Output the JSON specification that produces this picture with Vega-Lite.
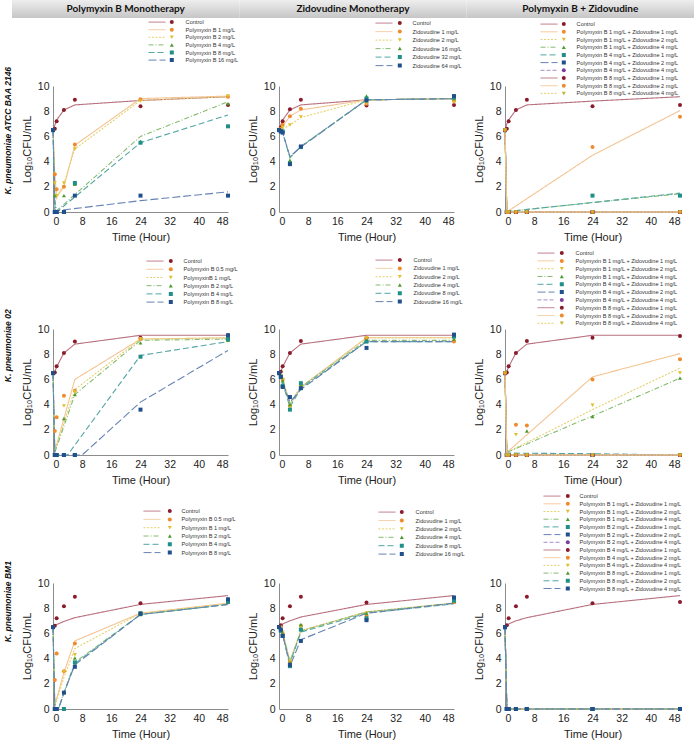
{
"$schema":"https://vega.github.io/schema/vega-lite/v6.json",
"padding":{"left":3,"top":0,"right":0,"bottom":0},
"autosize":{"type":"pad"},
"background":"white",
"config":{
 "view":{"stroke":null},
 "axis":{"labelFont":"Liberation Sans","labelFontSize":10.5,"labelColor":"#222","titleFont":"Liberation Sans","titleFontSize":11,"titleFontWeight":"normal","titleColor":"#222","domainColor":"#8c8c8c","domainWidth":1,"ticks":false,"grid":false,"labelPadding":4,"titlePadding":5},
 "axisX":{"titlePadding":5},
 "legend":{"labelFont":"Liberation Sans","labelFontSize":5.6,"labelColor":"#333","clipHeight":6.2,"padding":0,"labelLimit":200},
 "title":{"font":"Liberation Sans","fontSize":8.5,"fontWeight":"bold","fontStyle":"italic","color":"#111"}
},
"resolve":{"scale":{"stroke":"independent","strokeDash":"independent","fill":"independent","shape":"independent","x":"independent","y":"independent"},"legend":{"stroke":"independent","strokeDash":"independent","fill":"independent","shape":"independent"}},
"spacing":1,
"datasets":{
"A1":[
{"s":"Control","t":0,"o":6.5,"f":6.5},{"s":"Control","t":0.5,"o":6.6,"f":6.9},{"s":"Control","t":1,"o":7.2,"f":7.3},{"s":"Control","t":3,"o":8.1,"f":8.1},{"s":"Control","t":6,"o":8.9,"f":8.5},{"s":"Control","t":24,"o":8.4,"f":8.85},{"s":"Control","t":48,"o":8.5,"f":9.15},
{"s":"Polymyxin B 1 mg/L","t":0,"o":6.5,"f":6.5},{"s":"Polymyxin B 1 mg/L","t":0.5,"o":3.0,"f":3.0},{"s":"Polymyxin B 1 mg/L","t":1,"o":1.8,"f":1.2},{"s":"Polymyxin B 1 mg/L","t":3,"o":2.0,"f":2.0},{"s":"Polymyxin B 1 mg/L","t":6,"o":5.35,"f":5.3},{"s":"Polymyxin B 1 mg/L","t":24,"o":8.95,"f":9.0},{"s":"Polymyxin B 1 mg/L","t":48,"o":9.15,"f":9.2},
{"s":"Polymyxin B 2 mg/L","t":0,"o":6.5,"f":6.5},{"s":"Polymyxin B 2 mg/L","t":0.5,"o":2.3,"f":2.3},{"s":"Polymyxin B 2 mg/L","t":1,"o":1.3,"f":1.1},{"s":"Polymyxin B 2 mg/L","t":3,"o":2.3,"f":2.3},{"s":"Polymyxin B 2 mg/L","t":6,"o":5.0,"f":5.0},{"s":"Polymyxin B 2 mg/L","t":24,"o":8.8,"f":8.85},{"s":"Polymyxin B 2 mg/L","t":48,"o":9.2,"f":9.15},
{"s":"Polymyxin B 4 mg/L","t":0,"o":6.5,"f":6.5},{"s":"Polymyxin B 4 mg/L","t":0.5,"o":1.3,"f":1.0},{"s":"Polymyxin B 4 mg/L","t":1,"o":0,"f":0.1},{"s":"Polymyxin B 4 mg/L","t":3,"o":1.3},{"s":"Polymyxin B 4 mg/L","t":6,"o":2.2},{"s":"Polymyxin B 4 mg/L","t":24,"o":5.6,"f":6.0},{"s":"Polymyxin B 4 mg/L","t":48,"o":8.6,"f":8.75},
{"s":"Polymyxin B 8 mg/L","t":0,"o":6.5,"f":6.5},{"s":"Polymyxin B 8 mg/L","t":0.5,"o":0,"f":0.5},{"s":"Polymyxin B 8 mg/L","t":1,"o":0,"f":0},{"s":"Polymyxin B 8 mg/L","t":3,"o":0},{"s":"Polymyxin B 8 mg/L","t":6,"o":2.3},{"s":"Polymyxin B 8 mg/L","t":24,"o":5.5,"f":5.5},{"s":"Polymyxin B 8 mg/L","t":48,"o":6.8,"f":7.7},
{"s":"Polymyxin B 16 mg/L","t":0,"o":6.5,"f":6.5},{"s":"Polymyxin B 16 mg/L","t":0.5,"o":0,"f":0.2},{"s":"Polymyxin B 16 mg/L","t":1,"o":0,"f":0.1},{"s":"Polymyxin B 16 mg/L","t":3,"o":0},{"s":"Polymyxin B 16 mg/L","t":6,"o":1.3},{"s":"Polymyxin B 16 mg/L","t":24,"o":1.3,"f":0.9},{"s":"Polymyxin B 16 mg/L","t":48,"o":1.3,"f":1.6}
],
"A2":[
{"s":"Control","t":0,"o":6.5,"f":6.5},{"s":"Control","t":0.5,"o":6.7,"f":6.9},{"s":"Control","t":1,"o":7.2,"f":7.3},{"s":"Control","t":3,"o":8.15,"f":8.1},{"s":"Control","t":6,"o":8.9,"f":8.5},{"s":"Control","t":24,"o":8.45,"f":8.9},{"s":"Control","t":48,"o":8.5,"f":9.0},
{"s":"Zidovudine 1 mg/L","t":0,"o":6.5,"f":6.5},{"s":"Zidovudine 1 mg/L","t":0.5,"o":6.6,"f":6.6},{"s":"Zidovudine 1 mg/L","t":1,"o":6.9,"f":6.8},{"s":"Zidovudine 1 mg/L","t":3,"o":7.6,"f":7.6},{"s":"Zidovudine 1 mg/L","t":6,"o":8.2,"f":8.1},{"s":"Zidovudine 1 mg/L","t":24,"o":8.6,"f":8.9},{"s":"Zidovudine 1 mg/L","t":48,"o":8.8,"f":9.0},
{"s":"Zidovudine 2 mg/L","t":0,"o":6.5,"f":6.5},{"s":"Zidovudine 2 mg/L","t":0.5,"o":6.5,"f":6.55},{"s":"Zidovudine 2 mg/L","t":1,"o":6.7,"f":6.6},{"s":"Zidovudine 2 mg/L","t":3,"o":6.9,"f":6.9},{"s":"Zidovudine 2 mg/L","t":6,"o":7.55,"f":7.5},{"s":"Zidovudine 2 mg/L","t":24,"o":8.6,"f":8.9},{"s":"Zidovudine 2 mg/L","t":48,"o":8.7,"f":9.0},
{"s":"Zidovudine 16 mg/L","t":0,"o":6.5,"f":6.5},{"s":"Zidovudine 16 mg/L","t":0.5,"o":6.5,"f":6.45},{"s":"Zidovudine 16 mg/L","t":1,"o":6.4,"f":6.3},{"s":"Zidovudine 16 mg/L","t":3,"o":4.1,"f":4.3},{"s":"Zidovudine 16 mg/L","t":6,"o":5.2,"f":5.2},{"s":"Zidovudine 16 mg/L","t":24,"o":9.2,"f":8.9},{"s":"Zidovudine 16 mg/L","t":48,"o":9.0,"f":9.0},
{"s":"Zidovudine 32 mg/L","t":0,"o":6.5,"f":6.5},{"s":"Zidovudine 32 mg/L","t":0.5,"o":6.4,"f":6.45},{"s":"Zidovudine 32 mg/L","t":1,"o":6.4,"f":6.3},{"s":"Zidovudine 32 mg/L","t":3,"o":3.85,"f":4.35},{"s":"Zidovudine 32 mg/L","t":6,"o":5.15,"f":5.2},{"s":"Zidovudine 32 mg/L","t":24,"o":9.0,"f":8.9},{"s":"Zidovudine 32 mg/L","t":48,"o":9.1,"f":9.0},
{"s":"Zidovudine 64 mg/L","t":0,"o":6.5,"f":6.5},{"s":"Zidovudine 64 mg/L","t":0.5,"o":6.4,"f":6.4},{"s":"Zidovudine 64 mg/L","t":1,"o":6.3,"f":6.3},{"s":"Zidovudine 64 mg/L","t":3,"o":3.8,"f":4.4},{"s":"Zidovudine 64 mg/L","t":6,"o":5.2,"f":5.15},{"s":"Zidovudine 64 mg/L","t":24,"o":8.85,"f":8.9},{"s":"Zidovudine 64 mg/L","t":48,"o":9.2,"f":9.0}
],
"A3":[
{"s":"Control","t":0,"o":6.5,"f":6.5},{"s":"Control","t":0.5,"o":6.6,"f":7.0},{"s":"Control","t":1,"o":7.2,"f":7.3},{"s":"Control","t":3,"o":8.1,"f":8.1},{"s":"Control","t":6,"o":8.9,"f":8.5},{"s":"Control","t":24,"o":8.4,"f":8.8},{"s":"Control","t":48,"o":8.5,"f":9.15},
{"s":"Polymyxin B 1 mg/L + Zidovudine 1 mg/L","t":0,"o":6.5,"f":6.5},{"s":"Polymyxin B 1 mg/L + Zidovudine 1 mg/L","t":0.5,"o":0,"f":0},{"s":"Polymyxin B 1 mg/L + Zidovudine 1 mg/L","t":1,"o":0,"f":0.1},{"s":"Polymyxin B 1 mg/L + Zidovudine 1 mg/L","t":3,"o":0},{"s":"Polymyxin B 1 mg/L + Zidovudine 1 mg/L","t":6,"o":0},{"s":"Polymyxin B 1 mg/L + Zidovudine 1 mg/L","t":24,"o":5.15,"f":4.5},{"s":"Polymyxin B 1 mg/L + Zidovudine 1 mg/L","t":48,"o":7.55,"f":8.05},
{"s":"Polymyxin B 1 mg/L + Zidovudine 2 mg/L","t":0,"o":6.5,"f":6.5},{"s":"Polymyxin B 1 mg/L + Zidovudine 2 mg/L","t":0.5,"o":0,"f":0},{"s":"Polymyxin B 1 mg/L + Zidovudine 2 mg/L","t":1,"o":0},{"s":"Polymyxin B 1 mg/L + Zidovudine 2 mg/L","t":3,"o":0},{"s":"Polymyxin B 1 mg/L + Zidovudine 2 mg/L","t":6,"o":0},{"s":"Polymyxin B 1 mg/L + Zidovudine 2 mg/L","t":24,"o":0},{"s":"Polymyxin B 1 mg/L + Zidovudine 2 mg/L","t":48,"o":0,"f":0},
{"s":"Polymyxin B 1 mg/L + Zidovudine 4 mg/L","t":0,"o":6.5,"f":6.5},{"s":"Polymyxin B 1 mg/L + Zidovudine 4 mg/L","t":0.5,"o":0,"f":0},{"s":"Polymyxin B 1 mg/L + Zidovudine 4 mg/L","t":1,"o":0,"f":0.05},{"s":"Polymyxin B 1 mg/L + Zidovudine 4 mg/L","t":3,"o":0},{"s":"Polymyxin B 1 mg/L + Zidovudine 4 mg/L","t":6,"o":0},{"s":"Polymyxin B 1 mg/L + Zidovudine 4 mg/L","t":24,"o":0,"f":0.75},{"s":"Polymyxin B 1 mg/L + Zidovudine 4 mg/L","t":48,"o":0,"f":1.45},
{"s":"Polymyxin B 4 mg/L + Zidovudine 1 mg/L","t":0,"o":6.5,"f":6.5},{"s":"Polymyxin B 4 mg/L + Zidovudine 1 mg/L","t":0.5,"o":0,"f":0},{"s":"Polymyxin B 4 mg/L + Zidovudine 1 mg/L","t":1,"o":0,"f":0.05},{"s":"Polymyxin B 4 mg/L + Zidovudine 1 mg/L","t":3,"o":0},{"s":"Polymyxin B 4 mg/L + Zidovudine 1 mg/L","t":6,"o":0},{"s":"Polymyxin B 4 mg/L + Zidovudine 1 mg/L","t":24,"o":1.3,"f":0.75},{"s":"Polymyxin B 4 mg/L + Zidovudine 1 mg/L","t":48,"o":1.3,"f":1.5},
{"s":"Polymyxin B 4 mg/L + Zidovudine 2 mg/L","t":0,"o":6.5,"f":6.5},{"s":"Polymyxin B 4 mg/L + Zidovudine 2 mg/L","t":0.5,"o":0,"f":0},{"s":"Polymyxin B 4 mg/L + Zidovudine 2 mg/L","t":1,"o":0},{"s":"Polymyxin B 4 mg/L + Zidovudine 2 mg/L","t":3,"o":0},{"s":"Polymyxin B 4 mg/L + Zidovudine 2 mg/L","t":6,"o":0},{"s":"Polymyxin B 4 mg/L + Zidovudine 2 mg/L","t":24,"o":0},{"s":"Polymyxin B 4 mg/L + Zidovudine 2 mg/L","t":48,"o":0,"f":0},
{"s":"Polymyxin B 4 mg/L + Zidovudine 4 mg/L","t":0,"o":6.5,"f":6.5},{"s":"Polymyxin B 4 mg/L + Zidovudine 4 mg/L","t":0.5,"o":0,"f":0},{"s":"Polymyxin B 4 mg/L + Zidovudine 4 mg/L","t":1,"o":0},{"s":"Polymyxin B 4 mg/L + Zidovudine 4 mg/L","t":3,"o":0},{"s":"Polymyxin B 4 mg/L + Zidovudine 4 mg/L","t":6,"o":0},{"s":"Polymyxin B 4 mg/L + Zidovudine 4 mg/L","t":24,"o":0},{"s":"Polymyxin B 4 mg/L + Zidovudine 4 mg/L","t":48,"o":0,"f":0},
{"s":"Polymyxin B 8 mg/L + Zidovudine 1 mg/L","t":0,"o":6.5,"f":6.5},{"s":"Polymyxin B 8 mg/L + Zidovudine 1 mg/L","t":0.5,"o":0,"f":0},{"s":"Polymyxin B 8 mg/L + Zidovudine 1 mg/L","t":1,"o":0},{"s":"Polymyxin B 8 mg/L + Zidovudine 1 mg/L","t":3,"o":0},{"s":"Polymyxin B 8 mg/L + Zidovudine 1 mg/L","t":6,"o":0},{"s":"Polymyxin B 8 mg/L + Zidovudine 1 mg/L","t":24,"o":0},{"s":"Polymyxin B 8 mg/L + Zidovudine 1 mg/L","t":48,"o":0,"f":0},
{"s":"Polymyxin B 8 mg/L + Zidovudine 2 mg/L","t":0,"o":6.5,"f":6.5},{"s":"Polymyxin B 8 mg/L + Zidovudine 2 mg/L","t":0.5,"o":0,"f":0},{"s":"Polymyxin B 8 mg/L + Zidovudine 2 mg/L","t":1,"o":0},{"s":"Polymyxin B 8 mg/L + Zidovudine 2 mg/L","t":3,"o":0},{"s":"Polymyxin B 8 mg/L + Zidovudine 2 mg/L","t":6,"o":0},{"s":"Polymyxin B 8 mg/L + Zidovudine 2 mg/L","t":24,"o":0},{"s":"Polymyxin B 8 mg/L + Zidovudine 2 mg/L","t":48,"o":0,"f":0},
{"s":"Polymyxin B 8 mg/L + Zidovudine 4 mg/L","t":0,"o":6.5,"f":6.5},{"s":"Polymyxin B 8 mg/L + Zidovudine 4 mg/L","t":0.5,"o":0,"f":0},{"s":"Polymyxin B 8 mg/L + Zidovudine 4 mg/L","t":1,"o":0},{"s":"Polymyxin B 8 mg/L + Zidovudine 4 mg/L","t":3,"o":0},{"s":"Polymyxin B 8 mg/L + Zidovudine 4 mg/L","t":6,"o":0},{"s":"Polymyxin B 8 mg/L + Zidovudine 4 mg/L","t":24,"o":0},{"s":"Polymyxin B 8 mg/L + Zidovudine 4 mg/L","t":48,"o":0,"f":0}
],
"B1":[
{"s":"Control","t":0,"o":6.5,"f":6.5},{"s":"Control","t":0.5,"o":6.55,"f":6.6},{"s":"Control","t":1,"o":7.05,"f":7.0},{"s":"Control","t":3,"o":8.1,"f":8.1},{"s":"Control","t":6,"o":9.0,"f":8.8},{"s":"Control","t":24,"o":9.3,"f":9.5},{"s":"Control","t":48,"o":9.5,"f":9.5},
{"s":"Polymyxin B 0.5 mg/L","t":0,"o":6.5,"f":6.5},{"s":"Polymyxin B 0.5 mg/L","t":0.5,"o":1.9,"f":0.3},{"s":"Polymyxin B 0.5 mg/L","t":1,"o":3.0},{"s":"Polymyxin B 0.5 mg/L","t":3,"o":4.7},{"s":"Polymyxin B 0.5 mg/L","t":6,"o":5.1,"f":6.0},{"s":"Polymyxin B 0.5 mg/L","t":24,"o":9.2,"f":9.2},{"s":"Polymyxin B 0.5 mg/L","t":48,"o":9.4,"f":9.3},
{"s":"PolymyxinB 1 mg/L","t":0,"o":6.5,"f":6.5},{"s":"PolymyxinB 1 mg/L","t":0.5,"o":0,"f":0.3},{"s":"PolymyxinB 1 mg/L","t":1,"o":0},{"s":"PolymyxinB 1 mg/L","t":3,"o":3.9},{"s":"PolymyxinB 1 mg/L","t":6,"o":5.0,"f":5.2},{"s":"PolymyxinB 1 mg/L","t":24,"o":9.2,"f":9.2},{"s":"PolymyxinB 1 mg/L","t":48,"o":9.3,"f":9.3},
{"s":"Polymyxin B 2 mg/L","t":0,"o":6.5,"f":6.5},{"s":"Polymyxin B 2 mg/L","t":0.5,"o":0,"f":0.2},{"s":"Polymyxin B 2 mg/L","t":1,"o":0},{"s":"Polymyxin B 2 mg/L","t":3,"o":2.9},{"s":"Polymyxin B 2 mg/L","t":6,"o":4.8,"f":4.8},{"s":"Polymyxin B 2 mg/L","t":24,"o":8.9,"f":9.1},{"s":"Polymyxin B 2 mg/L","t":48,"o":9.1,"f":9.2},
{"s":"Polymyxin B 4 mg/L","t":0,"o":6.5,"f":6.5},{"s":"Polymyxin B 4 mg/L","t":0.5,"o":0,"f":0},{"s":"Polymyxin B 4 mg/L","t":1,"o":0},{"s":"Polymyxin B 4 mg/L","t":3,"o":0},{"s":"Polymyxin B 4 mg/L","t":4,"f":0},{"s":"Polymyxin B 4 mg/L","t":6,"o":0},{"s":"Polymyxin B 4 mg/L","t":24,"o":7.8,"f":7.9},{"s":"Polymyxin B 4 mg/L","t":48,"o":9.2,"f":9.0},
{"s":"Polymyxin B 8 mg/L","t":0,"o":6.5,"f":6.5},{"s":"Polymyxin B 8 mg/L","t":0.5,"o":0,"f":0},{"s":"Polymyxin B 8 mg/L","t":1,"o":0},{"s":"Polymyxin B 8 mg/L","t":3,"o":0},{"s":"Polymyxin B 8 mg/L","t":6,"o":0},{"s":"Polymyxin B 8 mg/L","t":8,"f":0},{"s":"Polymyxin B 8 mg/L","t":24,"o":3.6,"f":4.2},{"s":"Polymyxin B 8 mg/L","t":48,"o":9.5,"f":8.3}
],
"B2":[
{"s":"Control","t":0,"o":6.5,"f":6.5},{"s":"Control","t":0.5,"o":6.6,"f":6.6},{"s":"Control","t":1,"o":7.05,"f":7.0},{"s":"Control","t":3,"o":8.1,"f":8.1},{"s":"Control","t":6,"o":9.05,"f":8.8},{"s":"Control","t":24,"o":9.3,"f":9.5},{"s":"Control","t":48,"o":9.55,"f":9.5},
{"s":"Zidovudine 1 mg/L","t":0,"o":6.5,"f":6.5},{"s":"Zidovudine 1 mg/L","t":0.5,"o":6.3,"f":6.3},{"s":"Zidovudine 1 mg/L","t":1,"o":6.0,"f":6.0},{"s":"Zidovudine 1 mg/L","t":3,"o":3.9,"f":4.1},{"s":"Zidovudine 1 mg/L","t":6,"o":5.5,"f":5.4},{"s":"Zidovudine 1 mg/L","t":24,"o":9.25,"f":9.3},{"s":"Zidovudine 1 mg/L","t":48,"o":9.0,"f":9.3},
{"s":"Zidovudine 2 mg/L","t":0,"o":6.5,"f":6.5},{"s":"Zidovudine 2 mg/L","t":0.5,"o":6.3,"f":6.3},{"s":"Zidovudine 2 mg/L","t":1,"o":6.0,"f":6.0},{"s":"Zidovudine 2 mg/L","t":3,"o":3.8,"f":4.0},{"s":"Zidovudine 2 mg/L","t":6,"o":5.4,"f":5.3},{"s":"Zidovudine 2 mg/L","t":24,"o":9.3,"f":9.3},{"s":"Zidovudine 2 mg/L","t":48,"o":9.3,"f":9.3},
{"s":"Zidovudine 4 mg/L","t":0,"o":6.5,"f":6.5},{"s":"Zidovudine 4 mg/L","t":0.5,"o":6.3,"f":6.3},{"s":"Zidovudine 4 mg/L","t":1,"o":5.9,"f":5.9},{"s":"Zidovudine 4 mg/L","t":3,"o":4.0,"f":4.0},{"s":"Zidovudine 4 mg/L","t":6,"o":5.5,"f":5.4},{"s":"Zidovudine 4 mg/L","t":24,"o":9.1,"f":9.1},{"s":"Zidovudine 4 mg/L","t":48,"o":9.2,"f":9.1},
{"s":"Zidovudine 8 mg/L","t":0,"o":6.5,"f":6.5},{"s":"Zidovudine 8 mg/L","t":0.5,"o":6.2,"f":6.2},{"s":"Zidovudine 8 mg/L","t":1,"o":5.5,"f":5.7},{"s":"Zidovudine 8 mg/L","t":3,"o":3.6,"f":3.8},{"s":"Zidovudine 8 mg/L","t":6,"o":5.7,"f":5.3},{"s":"Zidovudine 8 mg/L","t":24,"o":9.0,"f":9.0},{"s":"Zidovudine 8 mg/L","t":48,"o":9.4,"f":9.0},
{"s":"Zidovudine 16 mg/L","t":0,"o":6.5,"f":6.5},{"s":"Zidovudine 16 mg/L","t":0.5,"o":6.2,"f":6.2},{"s":"Zidovudine 16 mg/L","t":1,"o":5.4,"f":5.7},{"s":"Zidovudine 16 mg/L","t":3,"o":4.6,"f":4.2},{"s":"Zidovudine 16 mg/L","t":6,"o":5.3,"f":5.2},{"s":"Zidovudine 16 mg/L","t":24,"o":8.5,"f":9.0},{"s":"Zidovudine 16 mg/L","t":48,"o":9.55,"f":9.0}
],
"B3":[
{"s":"Control","t":0,"o":6.5,"f":6.5},{"s":"Control","t":0.5,"o":6.55,"f":6.6},{"s":"Control","t":1,"o":7.05,"f":7.0},{"s":"Control","t":3,"o":8.1,"f":8.1},{"s":"Control","t":6,"o":9.05,"f":8.8},{"s":"Control","t":24,"o":9.3,"f":9.5},{"s":"Control","t":48,"o":9.45,"f":9.5},
{"s":"Polymyxin B 1 mg/L + Zidovudine 1 mg/L","t":0,"o":6.5,"f":6.5},{"s":"Polymyxin B 1 mg/L + Zidovudine 1 mg/L","t":0.5,"o":0,"f":0.2},{"s":"Polymyxin B 1 mg/L + Zidovudine 1 mg/L","t":1,"o":0},{"s":"Polymyxin B 1 mg/L + Zidovudine 1 mg/L","t":3,"o":2.4},{"s":"Polymyxin B 1 mg/L + Zidovudine 1 mg/L","t":6,"o":2.35},{"s":"Polymyxin B 1 mg/L + Zidovudine 1 mg/L","t":24,"o":6.0,"f":6.2},{"s":"Polymyxin B 1 mg/L + Zidovudine 1 mg/L","t":48,"o":7.6,"f":8.05},
{"s":"Polymyxin B 1 mg/L + Zidovudine 2 mg/L","t":0,"o":6.5,"f":6.5},{"s":"Polymyxin B 1 mg/L + Zidovudine 2 mg/L","t":0.5,"o":0,"f":0.2},{"s":"Polymyxin B 1 mg/L + Zidovudine 2 mg/L","t":1,"o":0},{"s":"Polymyxin B 1 mg/L + Zidovudine 2 mg/L","t":3,"o":1.6},{"s":"Polymyxin B 1 mg/L + Zidovudine 2 mg/L","t":6,"o":0},{"s":"Polymyxin B 1 mg/L + Zidovudine 2 mg/L","t":24,"o":3.95,"f":3.6},{"s":"Polymyxin B 1 mg/L + Zidovudine 2 mg/L","t":48,"o":6.5,"f":6.9},
{"s":"Polymyxin B 1 mg/L + Zidovudine 4 mg/L","t":0,"o":6.5,"f":6.5},{"s":"Polymyxin B 1 mg/L + Zidovudine 4 mg/L","t":0.5,"o":0,"f":0.2},{"s":"Polymyxin B 1 mg/L + Zidovudine 4 mg/L","t":1,"o":0},{"s":"Polymyxin B 1 mg/L + Zidovudine 4 mg/L","t":3,"o":0},{"s":"Polymyxin B 1 mg/L + Zidovudine 4 mg/L","t":6,"o":1.9},{"s":"Polymyxin B 1 mg/L + Zidovudine 4 mg/L","t":24,"o":3.05,"f":3.1},{"s":"Polymyxin B 1 mg/L + Zidovudine 4 mg/L","t":48,"o":6.1,"f":6.1},
{"s":"Polymyxin B 4 mg/L + Zidovudine 1 mg/L","t":0,"o":6.5,"f":6.5},{"s":"Polymyxin B 4 mg/L + Zidovudine 1 mg/L","t":0.5,"o":0,"f":0},{"s":"Polymyxin B 4 mg/L + Zidovudine 1 mg/L","t":1,"o":0,"f":0.15},{"s":"Polymyxin B 4 mg/L + Zidovudine 1 mg/L","t":3,"o":0},{"s":"Polymyxin B 4 mg/L + Zidovudine 1 mg/L","t":6,"o":0},{"s":"Polymyxin B 4 mg/L + Zidovudine 1 mg/L","t":24,"o":0,"f":0.1},{"s":"Polymyxin B 4 mg/L + Zidovudine 1 mg/L","t":48,"o":0,"f":0},
{"s":"Polymyxin B 4 mg/L + Zidovudine 2 mg/L","t":0,"o":6.5,"f":6.5},{"s":"Polymyxin B 4 mg/L + Zidovudine 2 mg/L","t":0.5,"o":0,"f":0},{"s":"Polymyxin B 4 mg/L + Zidovudine 2 mg/L","t":1,"o":0},{"s":"Polymyxin B 4 mg/L + Zidovudine 2 mg/L","t":3,"o":0},{"s":"Polymyxin B 4 mg/L + Zidovudine 2 mg/L","t":6,"o":0},{"s":"Polymyxin B 4 mg/L + Zidovudine 2 mg/L","t":24,"o":0},{"s":"Polymyxin B 4 mg/L + Zidovudine 2 mg/L","t":48,"o":0,"f":0},
{"s":"Polymyxin B 4 mg/L + Zidovudine 4 mg/L","t":0,"o":6.5,"f":6.5},{"s":"Polymyxin B 4 mg/L + Zidovudine 4 mg/L","t":0.5,"o":0,"f":0},{"s":"Polymyxin B 4 mg/L + Zidovudine 4 mg/L","t":1,"o":0},{"s":"Polymyxin B 4 mg/L + Zidovudine 4 mg/L","t":3,"o":0},{"s":"Polymyxin B 4 mg/L + Zidovudine 4 mg/L","t":6,"o":0},{"s":"Polymyxin B 4 mg/L + Zidovudine 4 mg/L","t":24,"o":0},{"s":"Polymyxin B 4 mg/L + Zidovudine 4 mg/L","t":48,"o":0,"f":0},
{"s":"Polymyxin B 8 mg/L + Zidovudine 1 mg/L","t":0,"o":6.5,"f":6.5},{"s":"Polymyxin B 8 mg/L + Zidovudine 1 mg/L","t":0.5,"o":0,"f":0},{"s":"Polymyxin B 8 mg/L + Zidovudine 1 mg/L","t":1,"o":0},{"s":"Polymyxin B 8 mg/L + Zidovudine 1 mg/L","t":3,"o":0},{"s":"Polymyxin B 8 mg/L + Zidovudine 1 mg/L","t":6,"o":0},{"s":"Polymyxin B 8 mg/L + Zidovudine 1 mg/L","t":24,"o":0},{"s":"Polymyxin B 8 mg/L + Zidovudine 1 mg/L","t":48,"o":0,"f":0},
{"s":"Polymyxin B 8 mg/L + Zidovudine 2 mg/L","t":0,"o":6.5,"f":6.5},{"s":"Polymyxin B 8 mg/L + Zidovudine 2 mg/L","t":0.5,"o":0,"f":0},{"s":"Polymyxin B 8 mg/L + Zidovudine 2 mg/L","t":1,"o":0},{"s":"Polymyxin B 8 mg/L + Zidovudine 2 mg/L","t":3,"o":0},{"s":"Polymyxin B 8 mg/L + Zidovudine 2 mg/L","t":6,"o":0},{"s":"Polymyxin B 8 mg/L + Zidovudine 2 mg/L","t":24,"o":0},{"s":"Polymyxin B 8 mg/L + Zidovudine 2 mg/L","t":48,"o":0,"f":0},
{"s":"Polymyxin B 8 mg/L + Zidovudine 4 mg/L","t":0,"o":6.5,"f":6.5},{"s":"Polymyxin B 8 mg/L + Zidovudine 4 mg/L","t":0.5,"o":0,"f":0},{"s":"Polymyxin B 8 mg/L + Zidovudine 4 mg/L","t":1,"o":0},{"s":"Polymyxin B 8 mg/L + Zidovudine 4 mg/L","t":3,"o":0},{"s":"Polymyxin B 8 mg/L + Zidovudine 4 mg/L","t":6,"o":0},{"s":"Polymyxin B 8 mg/L + Zidovudine 4 mg/L","t":24,"o":0},{"s":"Polymyxin B 8 mg/L + Zidovudine 4 mg/L","t":48,"o":0,"f":0}
],
"C1":[
{"s":"Control","t":0,"o":6.5,"f":6.5},{"s":"Control","t":0.5,"o":6.6,"f":6.6},{"s":"Control","t":1,"o":7.2,"f":6.7},{"s":"Control","t":3,"o":8.15,"f":6.95},{"s":"Control","t":6,"o":8.9,"f":7.25},{"s":"Control","t":24,"o":8.4,"f":8.3},{"s":"Control","t":48,"o":8.7,"f":9.0},
{"s":"Polymyxin B 0.5 mg/L","t":0,"o":6.5,"f":6.5},{"s":"Polymyxin B 0.5 mg/L","t":0.5,"o":2.3,"f":0.3},{"s":"Polymyxin B 0.5 mg/L","t":1,"o":4.4},{"s":"Polymyxin B 0.5 mg/L","t":3,"o":3.0,"f":2.9},{"s":"Polymyxin B 0.5 mg/L","t":6,"o":5.2,"f":5.4},{"s":"Polymyxin B 0.5 mg/L","t":24,"o":7.6,"f":7.6},{"s":"Polymyxin B 0.5 mg/L","t":48,"o":8.5,"f":8.4},
{"s":"Polymyxin B 1 mg/L","t":0,"o":6.5,"f":6.5},{"s":"Polymyxin B 1 mg/L","t":0.5,"o":0,"f":0.2},{"s":"Polymyxin B 1 mg/L","t":1,"o":0},{"s":"Polymyxin B 1 mg/L","t":3,"o":2.95,"f":2.5},{"s":"Polymyxin B 1 mg/L","t":6,"o":4.3,"f":4.8},{"s":"Polymyxin B 1 mg/L","t":24,"o":7.6,"f":7.6},{"s":"Polymyxin B 1 mg/L","t":48,"o":8.4,"f":8.35},
{"s":"Polymyxin B 2 mg/L","t":0,"o":6.5,"f":6.5},{"s":"Polymyxin B 2 mg/L","t":0.5,"o":0,"f":0},{"s":"Polymyxin B 2 mg/L","t":1,"o":0},{"s":"Polymyxin B 2 mg/L","t":1.5,"f":0},{"s":"Polymyxin B 2 mg/L","t":3,"o":1.3,"f":1.3},{"s":"Polymyxin B 2 mg/L","t":6,"o":4.05,"f":3.7},{"s":"Polymyxin B 2 mg/L","t":24,"o":7.5,"f":7.5},{"s":"Polymyxin B 2 mg/L","t":48,"o":8.5,"f":8.3},
{"s":"Polymyxin B 4 mg/L","t":0,"o":6.5,"f":6.5},{"s":"Polymyxin B 4 mg/L","t":0.5,"o":0,"f":0},{"s":"Polymyxin B 4 mg/L","t":1,"o":0},{"s":"Polymyxin B 4 mg/L","t":1.5,"f":0},{"s":"Polymyxin B 4 mg/L","t":3,"o":0,"f":1.25},{"s":"Polymyxin B 4 mg/L","t":6,"o":3.7,"f":3.6},{"s":"Polymyxin B 4 mg/L","t":24,"o":7.6,"f":7.5},{"s":"Polymyxin B 4 mg/L","t":48,"o":8.5,"f":8.3},
{"s":"Polymyxin B 8 mg/L","t":0,"o":6.5,"f":6.5},{"s":"Polymyxin B 8 mg/L","t":0.5,"o":0,"f":0},{"s":"Polymyxin B 8 mg/L","t":1,"o":0},{"s":"Polymyxin B 8 mg/L","t":1.5,"f":0},{"s":"Polymyxin B 8 mg/L","t":3,"o":1.3,"f":1.3},{"s":"Polymyxin B 8 mg/L","t":6,"o":3.35,"f":3.5},{"s":"Polymyxin B 8 mg/L","t":24,"o":7.55,"f":7.5},{"s":"Polymyxin B 8 mg/L","t":48,"o":8.7,"f":8.3}
],
"C2":[
{"s":"Control","t":0,"o":6.5,"f":6.5},{"s":"Control","t":0.5,"o":6.65,"f":6.65},{"s":"Control","t":1,"o":7.2,"f":6.75},{"s":"Control","t":3,"o":8.15,"f":7.0},{"s":"Control","t":6,"o":8.9,"f":7.3},{"s":"Control","t":24,"o":8.45,"f":8.3},{"s":"Control","t":48,"o":8.5,"f":9.0},
{"s":"Zidovudine 1 mg/L","t":0,"o":6.5,"f":6.5},{"s":"Zidovudine 1 mg/L","t":0.5,"o":6.5,"f":6.4},{"s":"Zidovudine 1 mg/L","t":1,"o":6.0,"f":6.1},{"s":"Zidovudine 1 mg/L","t":3,"o":3.7,"f":3.8},{"s":"Zidovudine 1 mg/L","t":6,"o":6.6,"f":6.2},{"s":"Zidovudine 1 mg/L","t":24,"o":7.4,"f":7.7},{"s":"Zidovudine 1 mg/L","t":48,"o":8.5,"f":8.4},
{"s":"Zidovudine 2 mg/L","t":0,"o":6.5,"f":6.5},{"s":"Zidovudine 2 mg/L","t":0.5,"o":6.4,"f":6.4},{"s":"Zidovudine 2 mg/L","t":1,"o":6.1,"f":6.1},{"s":"Zidovudine 2 mg/L","t":3,"o":3.8,"f":3.8},{"s":"Zidovudine 2 mg/L","t":6,"o":6.5,"f":6.2},{"s":"Zidovudine 2 mg/L","t":24,"o":7.6,"f":7.7},{"s":"Zidovudine 2 mg/L","t":48,"o":8.5,"f":8.4},
{"s":"Zidovudine 4 mg/L","t":0,"o":6.5,"f":6.5},{"s":"Zidovudine 4 mg/L","t":0.5,"o":6.3,"f":6.4},{"s":"Zidovudine 4 mg/L","t":1,"o":6.0,"f":6.0},{"s":"Zidovudine 4 mg/L","t":3,"o":3.7,"f":3.7},{"s":"Zidovudine 4 mg/L","t":6,"o":6.7,"f":6.2},{"s":"Zidovudine 4 mg/L","t":24,"o":7.6,"f":7.7},{"s":"Zidovudine 4 mg/L","t":48,"o":8.6,"f":8.4},
{"s":"Zidovudine 8 mg/L","t":0,"o":6.5,"f":6.5},{"s":"Zidovudine 8 mg/L","t":0.5,"o":6.2,"f":6.3},{"s":"Zidovudine 8 mg/L","t":1,"o":5.8,"f":5.9},{"s":"Zidovudine 8 mg/L","t":3,"o":3.4,"f":3.6},{"s":"Zidovudine 8 mg/L","t":6,"o":6.3,"f":6.1},{"s":"Zidovudine 8 mg/L","t":24,"o":7.2,"f":7.6},{"s":"Zidovudine 8 mg/L","t":48,"o":8.6,"f":8.35},
{"s":"Zidovudine 16 mg/L","t":0,"o":6.5,"f":6.5},{"s":"Zidovudine 16 mg/L","t":0.5,"o":6.3,"f":6.3},{"s":"Zidovudine 16 mg/L","t":1,"o":5.8,"f":5.9},{"s":"Zidovudine 16 mg/L","t":3,"o":3.5,"f":3.4},{"s":"Zidovudine 16 mg/L","t":6,"o":5.4,"f":5.5},{"s":"Zidovudine 16 mg/L","t":24,"o":7.05,"f":7.6},{"s":"Zidovudine 16 mg/L","t":48,"o":8.85,"f":8.4}
],
"C3":[
{"s":"Control","t":0,"o":6.5,"f":6.5},{"s":"Control","t":0.5,"o":6.65,"f":6.65},{"s":"Control","t":1,"o":7.2,"f":6.75},{"s":"Control","t":3,"o":8.15,"f":7.0},{"s":"Control","t":6,"o":8.9,"f":7.25},{"s":"Control","t":24,"o":8.4,"f":8.3},{"s":"Control","t":48,"o":8.5,"f":9.0},
{"s":"Polymyxin B 1 mg/L + Zidovudine 1 mg/L","t":0,"o":6.5,"f":6.5},{"s":"Polymyxin B 1 mg/L + Zidovudine 1 mg/L","t":0.5,"o":0,"f":0},{"s":"Polymyxin B 1 mg/L + Zidovudine 1 mg/L","t":1,"o":0},{"s":"Polymyxin B 1 mg/L + Zidovudine 1 mg/L","t":3,"o":0},{"s":"Polymyxin B 1 mg/L + Zidovudine 1 mg/L","t":6,"o":0},{"s":"Polymyxin B 1 mg/L + Zidovudine 1 mg/L","t":24,"o":0},{"s":"Polymyxin B 1 mg/L + Zidovudine 1 mg/L","t":48,"o":0,"f":0},
{"s":"Polymyxin B 1 mg/L + Zidovudine 2 mg/L","t":0,"o":6.5,"f":6.5},{"s":"Polymyxin B 1 mg/L + Zidovudine 2 mg/L","t":0.5,"o":0,"f":0},{"s":"Polymyxin B 1 mg/L + Zidovudine 2 mg/L","t":1,"o":0},{"s":"Polymyxin B 1 mg/L + Zidovudine 2 mg/L","t":3,"o":0},{"s":"Polymyxin B 1 mg/L + Zidovudine 2 mg/L","t":6,"o":0},{"s":"Polymyxin B 1 mg/L + Zidovudine 2 mg/L","t":24,"o":0},{"s":"Polymyxin B 1 mg/L + Zidovudine 2 mg/L","t":48,"o":0,"f":0},
{"s":"Polymyxin B 1 mg/L + Zidovudine 4 mg/L","t":0,"o":6.5,"f":6.5},{"s":"Polymyxin B 1 mg/L + Zidovudine 4 mg/L","t":0.5,"o":0,"f":0},{"s":"Polymyxin B 1 mg/L + Zidovudine 4 mg/L","t":1,"o":0},{"s":"Polymyxin B 1 mg/L + Zidovudine 4 mg/L","t":3,"o":0},{"s":"Polymyxin B 1 mg/L + Zidovudine 4 mg/L","t":6,"o":0},{"s":"Polymyxin B 1 mg/L + Zidovudine 4 mg/L","t":24,"o":0},{"s":"Polymyxin B 1 mg/L + Zidovudine 4 mg/L","t":48,"o":0,"f":0},
{"s":"Polymyxin B 2 mg/L + Zidovudine 1 mg/L","t":0,"o":6.5,"f":6.5},{"s":"Polymyxin B 2 mg/L + Zidovudine 1 mg/L","t":0.5,"o":0,"f":0},{"s":"Polymyxin B 2 mg/L + Zidovudine 1 mg/L","t":1,"o":0},{"s":"Polymyxin B 2 mg/L + Zidovudine 1 mg/L","t":3,"o":0},{"s":"Polymyxin B 2 mg/L + Zidovudine 1 mg/L","t":6,"o":0},{"s":"Polymyxin B 2 mg/L + Zidovudine 1 mg/L","t":24,"o":0},{"s":"Polymyxin B 2 mg/L + Zidovudine 1 mg/L","t":48,"o":0,"f":0},
{"s":"Polymyxin B 2 mg/L + Zidovudine 2 mg/L","t":0,"o":6.5,"f":6.5},{"s":"Polymyxin B 2 mg/L + Zidovudine 2 mg/L","t":0.5,"o":0,"f":0},{"s":"Polymyxin B 2 mg/L + Zidovudine 2 mg/L","t":1,"o":0},{"s":"Polymyxin B 2 mg/L + Zidovudine 2 mg/L","t":3,"o":0},{"s":"Polymyxin B 2 mg/L + Zidovudine 2 mg/L","t":6,"o":0},{"s":"Polymyxin B 2 mg/L + Zidovudine 2 mg/L","t":24,"o":0},{"s":"Polymyxin B 2 mg/L + Zidovudine 2 mg/L","t":48,"o":0,"f":0},
{"s":"Polymyxin B 2 mg/L + Zidovudine 4 mg/L","t":0,"o":6.5,"f":6.5},{"s":"Polymyxin B 2 mg/L + Zidovudine 4 mg/L","t":0.5,"o":0,"f":0},{"s":"Polymyxin B 2 mg/L + Zidovudine 4 mg/L","t":1,"o":0},{"s":"Polymyxin B 2 mg/L + Zidovudine 4 mg/L","t":3,"o":0},{"s":"Polymyxin B 2 mg/L + Zidovudine 4 mg/L","t":6,"o":0},{"s":"Polymyxin B 2 mg/L + Zidovudine 4 mg/L","t":24,"o":0},{"s":"Polymyxin B 2 mg/L + Zidovudine 4 mg/L","t":48,"o":0,"f":0},
{"s":"Polymyxin B 4 mg/L + Zidovudine 1 mg/L","t":0,"o":6.5,"f":6.5},{"s":"Polymyxin B 4 mg/L + Zidovudine 1 mg/L","t":0.5,"o":0,"f":0},{"s":"Polymyxin B 4 mg/L + Zidovudine 1 mg/L","t":1,"o":0},{"s":"Polymyxin B 4 mg/L + Zidovudine 1 mg/L","t":3,"o":0},{"s":"Polymyxin B 4 mg/L + Zidovudine 1 mg/L","t":6,"o":0},{"s":"Polymyxin B 4 mg/L + Zidovudine 1 mg/L","t":24,"o":0},{"s":"Polymyxin B 4 mg/L + Zidovudine 1 mg/L","t":48,"o":0,"f":0},
{"s":"Polymyxin B 4 mg/L + Zidovudine 2 mg/L","t":0,"o":6.5,"f":6.5},{"s":"Polymyxin B 4 mg/L + Zidovudine 2 mg/L","t":0.5,"o":0,"f":0},{"s":"Polymyxin B 4 mg/L + Zidovudine 2 mg/L","t":1,"o":0},{"s":"Polymyxin B 4 mg/L + Zidovudine 2 mg/L","t":3,"o":0},{"s":"Polymyxin B 4 mg/L + Zidovudine 2 mg/L","t":6,"o":0},{"s":"Polymyxin B 4 mg/L + Zidovudine 2 mg/L","t":24,"o":0},{"s":"Polymyxin B 4 mg/L + Zidovudine 2 mg/L","t":48,"o":0,"f":0},
{"s":"Polymyxin B 4 mg/L + Zidovudine 4 mg/L","t":0,"o":6.5,"f":6.5},{"s":"Polymyxin B 4 mg/L + Zidovudine 4 mg/L","t":0.5,"o":0,"f":0},{"s":"Polymyxin B 4 mg/L + Zidovudine 4 mg/L","t":1,"o":0},{"s":"Polymyxin B 4 mg/L + Zidovudine 4 mg/L","t":3,"o":0},{"s":"Polymyxin B 4 mg/L + Zidovudine 4 mg/L","t":6,"o":0},{"s":"Polymyxin B 4 mg/L + Zidovudine 4 mg/L","t":24,"o":0},{"s":"Polymyxin B 4 mg/L + Zidovudine 4 mg/L","t":48,"o":0,"f":0},
{"s":"Polymyxin B 8 mg/L + Zidovudine 1 mg/L","t":0,"o":6.5,"f":6.5},{"s":"Polymyxin B 8 mg/L + Zidovudine 1 mg/L","t":0.5,"o":0,"f":0},{"s":"Polymyxin B 8 mg/L + Zidovudine 1 mg/L","t":1,"o":0},{"s":"Polymyxin B 8 mg/L + Zidovudine 1 mg/L","t":3,"o":0},{"s":"Polymyxin B 8 mg/L + Zidovudine 1 mg/L","t":6,"o":0},{"s":"Polymyxin B 8 mg/L + Zidovudine 1 mg/L","t":24,"o":0},{"s":"Polymyxin B 8 mg/L + Zidovudine 1 mg/L","t":48,"o":0,"f":0},
{"s":"Polymyxin B 8 mg/L + Zidovudine 2 mg/L","t":0,"o":6.5,"f":6.5},{"s":"Polymyxin B 8 mg/L + Zidovudine 2 mg/L","t":0.5,"o":0,"f":0},{"s":"Polymyxin B 8 mg/L + Zidovudine 2 mg/L","t":1,"o":0},{"s":"Polymyxin B 8 mg/L + Zidovudine 2 mg/L","t":3,"o":0},{"s":"Polymyxin B 8 mg/L + Zidovudine 2 mg/L","t":6,"o":0},{"s":"Polymyxin B 8 mg/L + Zidovudine 2 mg/L","t":24,"o":0},{"s":"Polymyxin B 8 mg/L + Zidovudine 2 mg/L","t":48,"o":0,"f":0},
{"s":"Polymyxin B 8 mg/L + Zidovudine 4 mg/L","t":0,"o":6.5,"f":6.5},{"s":"Polymyxin B 8 mg/L + Zidovudine 4 mg/L","t":0.5,"o":0,"f":0},{"s":"Polymyxin B 8 mg/L + Zidovudine 4 mg/L","t":1,"o":0},{"s":"Polymyxin B 8 mg/L + Zidovudine 4 mg/L","t":3,"o":0},{"s":"Polymyxin B 8 mg/L + Zidovudine 4 mg/L","t":6,"o":0},{"s":"Polymyxin B 8 mg/L + Zidovudine 4 mg/L","t":24,"o":0},{"s":"Polymyxin B 8 mg/L + Zidovudine 4 mg/L","t":48,"o":0,"f":0}
]
},
"vconcat":[
{
 "width":641,"height":18,
 "data":{"values":[{"h":"Polymyxin B Monotherapy"},{"h":"Zidovudine Monotherapy"},{"h":"Polymyxin B + Zidovudine"}]},
 "encoding":{"x":{"field":"h","type":"nominal","scale":{"domain":["Polymyxin B Monotherapy","Zidovudine Monotherapy","Polymyxin B + Zidovudine"],"range":[-41,641],"paddingInner":0,"paddingOuter":0},"axis":null}},
 "layer":[
  {"mark":{"type":"rect","color":{"gradient":"linear","x1":0,"y1":0,"x2":0,"y2":1,"stops":[{"offset":0,"color":"#eeeeee"},{"offset":1,"color":"#c6c6c6"}]}}},
  {"mark":{"type":"text","font":"Lato","fontSize":10,"fontWeight":"bold","color":"#111"},"encoding":{"text":{"field":"h"}}}
 ]
},
{
"spacing":7,
"resolve":{"scale":{"stroke":"independent","strokeDash":"independent","fill":"independent","shape":"independent","x":"independent","y":"independent"},"legend":{"stroke":"independent","strokeDash":"independent","fill":"independent","shape":"independent"}},
"vconcat":[
{
 "bounds":"flush","spacing":51,
 "resolve":{"scale":{"stroke":"independent","strokeDash":"independent","fill":"independent","shape":"independent","x":"independent","y":"independent"},"legend":{"stroke":"independent","strokeDash":"independent","fill":"independent","shape":"independent"}},
 "hconcat":[
  {
   "width":175,"height":126,"data":{"name":"A1"},
   "title":{"text":"K. pneumoniae ATCC BAA 2146","orient":"left","anchor":"middle","frame":"bounds","offset":9},
   "layer":[
    {"mark":{"type":"line","strokeWidth":1.1,"invalid":"filter"},
     "encoding":{
      "x":{"field":"t","type":"quantitative","scale":{"domain":[0,48],"nice":false},"axis":{"values":[0,8,16,24,32,40,48],"title":"Time (Hour)"}},
      "y":{"field":"f","type":"quantitative","scale":{"domain":[0,10],"nice":false},"axis":{"values":[0,2,4,6,8,10],"title":"Log₁₀CFU/mL"}},
      "stroke":{"field":"s","type":"nominal","scale":{"domain":["Polymyxin B 16 mg/L","Polymyxin B 8 mg/L","Polymyxin B 4 mg/L","Polymyxin B 2 mg/L","Polymyxin B 1 mg/L","Control"],"range":["#6683b2","#52a6a5","#86bb6f","#e3d26e","#f4c493","#b7707f"]},"legend":{"title":null,"orient":"none","legendX":95,"legendY":-67,"values":["Control","Polymyxin B 1 mg/L","Polymyxin B 2 mg/L","Polymyxin B 4 mg/L","Polymyxin B 8 mg/L","Polymyxin B 16 mg/L"],"symbolType":"stroke","symbolSize":289,"symbolStrokeWidth":1,"labelExpr":"''","rowPadding":0.6}},
      "strokeDash":{"field":"s","type":"nominal","scale":{"domain":["Polymyxin B 16 mg/L","Polymyxin B 8 mg/L","Polymyxin B 4 mg/L","Polymyxin B 2 mg/L","Polymyxin B 1 mg/L","Control"],"range":[[8,3],[6,3],[5,2,1,2],[2,1.5],[1,0],[1,0]]},"legend":{"title":null,"orient":"none","legendX":95,"legendY":-67,"values":["Control","Polymyxin B 1 mg/L","Polymyxin B 2 mg/L","Polymyxin B 4 mg/L","Polymyxin B 8 mg/L","Polymyxin B 16 mg/L"],"symbolType":"stroke","symbolSize":289,"symbolStrokeWidth":1,"labelExpr":"''","rowPadding":0.6}}
     }},
    {"mark":{"type":"point","filled":true,"size":16,"opacity":1,"invalid":"filter"},
     "encoding":{
      "x":{"field":"t","type":"quantitative","scale":{"domain":[0,48],"nice":false},"axis":{"values":[0,8,16,24,32,40,48],"title":"Time (Hour)"}},
      "y":{"field":"o","type":"quantitative","scale":{"domain":[0,10],"nice":false},"axis":{"values":[0,2,4,6,8,10],"title":"Log₁₀CFU/mL"}},
      "fill":{"field":"s","type":"nominal","scale":{"domain":["Control","Polymyxin B 1 mg/L","Polymyxin B 2 mg/L","Polymyxin B 4 mg/L","Polymyxin B 8 mg/L","Polymyxin B 16 mg/L"],"range":["#8a1b2b","#ef8a2d","#dfc02c","#4e9a2f","#1f8f87","#204f8b"]},"legend":{"title":null,"orient":"none","legendX":116,"legendY":-67,"symbolSize":16,"symbolStrokeWidth":0,"labelOffset":11,"rowPadding":0.6}},
      "shape":{"field":"s","type":"nominal","scale":{"domain":["Control","Polymyxin B 1 mg/L","Polymyxin B 2 mg/L","Polymyxin B 4 mg/L","Polymyxin B 8 mg/L","Polymyxin B 16 mg/L"],"range":["circle","circle","triangle-down","triangle-up","square","square"]},"legend":{"title":null,"orient":"none","legendX":116,"legendY":-67,"symbolSize":16,"symbolStrokeWidth":0,"labelOffset":11,"rowPadding":0.6}}
     }}
   ]
  },
  {
   "width":175,"height":126,"data":{"name":"A2"},
   "layer":[
    {"mark":{"type":"line","strokeWidth":1.1,"invalid":"filter"},
     "encoding":{
      "x":{"field":"t","type":"quantitative","scale":{"domain":[0,48],"nice":false},"axis":{"values":[0,8,16,24,32,40,48],"title":"Time (Hour)"}},
      "y":{"field":"f","type":"quantitative","scale":{"domain":[0,10],"nice":false},"axis":{"values":[0,2,4,6,8,10],"title":"Log₁₀CFU/mL"}},
      "stroke":{"field":"s","type":"nominal","scale":{"domain":["Zidovudine 64 mg/L","Zidovudine 32 mg/L","Zidovudine 16 mg/L","Zidovudine 2 mg/L","Zidovudine 1 mg/L","Control"],"range":["#6683b2","#52a6a5","#86bb6f","#e3d26e","#f4c493","#b7707f"]},"legend":{"title":null,"orient":"none","legendX":96,"legendY":-66,"values":["Control","Zidovudine 1 mg/L","Zidovudine 2 mg/L","Zidovudine 16 mg/L","Zidovudine 32 mg/L","Zidovudine 64 mg/L"],"symbolType":"stroke","symbolSize":289,"symbolStrokeWidth":1,"labelExpr":"''","rowPadding":1.5}},
      "strokeDash":{"field":"s","type":"nominal","scale":{"domain":["Zidovudine 64 mg/L","Zidovudine 32 mg/L","Zidovudine 16 mg/L","Zidovudine 2 mg/L","Zidovudine 1 mg/L","Control"],"range":[[8,3],[6,3],[5,2,1,2],[2,1.5],[1,0],[1,0]]},"legend":{"title":null,"orient":"none","legendX":96,"legendY":-66,"values":["Control","Zidovudine 1 mg/L","Zidovudine 2 mg/L","Zidovudine 16 mg/L","Zidovudine 32 mg/L","Zidovudine 64 mg/L"],"symbolType":"stroke","symbolSize":289,"symbolStrokeWidth":1,"labelExpr":"''","rowPadding":1.5}}
     }},
    {"mark":{"type":"point","filled":true,"size":16,"opacity":1,"invalid":"filter"},
     "encoding":{
      "x":{"field":"t","type":"quantitative","scale":{"domain":[0,48],"nice":false},"axis":{"values":[0,8,16,24,32,40,48],"title":"Time (Hour)"}},
      "y":{"field":"o","type":"quantitative","scale":{"domain":[0,10],"nice":false},"axis":{"values":[0,2,4,6,8,10],"title":"Log₁₀CFU/mL"}},
      "fill":{"field":"s","type":"nominal","scale":{"domain":["Control","Zidovudine 1 mg/L","Zidovudine 2 mg/L","Zidovudine 16 mg/L","Zidovudine 32 mg/L","Zidovudine 64 mg/L"],"range":["#8a1b2b","#ef8a2d","#dfc02c","#4e9a2f","#1f8f87","#204f8b"]},"legend":{"title":null,"orient":"none","legendX":118,"legendY":-66,"symbolSize":16,"symbolStrokeWidth":0,"labelOffset":10,"rowPadding":1.5}},
      "shape":{"field":"s","type":"nominal","scale":{"domain":["Control","Zidovudine 1 mg/L","Zidovudine 2 mg/L","Zidovudine 16 mg/L","Zidovudine 32 mg/L","Zidovudine 64 mg/L"],"range":["circle","circle","triangle-down","triangle-up","square","square"]},"legend":{"title":null,"orient":"none","legendX":118,"legendY":-66,"symbolSize":16,"symbolStrokeWidth":0,"labelOffset":10,"rowPadding":1.5}}
     }}
   ]
  },
  {
   "width":175,"height":126,"data":{"name":"A3"},
   "layer":[
    {"mark":{"type":"line","strokeWidth":1.1,"invalid":"filter"},
     "encoding":{
      "x":{"field":"t","type":"quantitative","scale":{"domain":[0,48],"nice":false},"axis":{"values":[0,8,16,24,32,40,48],"title":"Time (Hour)"}},
      "y":{"field":"f","type":"quantitative","scale":{"domain":[0,10],"nice":false},"axis":{"values":[0,2,4,6,8,10],"title":"Log₁₀CFU/mL"}},
      "stroke":{"field":"s","type":"nominal","scale":{"domain":["Polymyxin B 8 mg/L + Zidovudine 4 mg/L","Polymyxin B 8 mg/L + Zidovudine 2 mg/L","Polymyxin B 8 mg/L + Zidovudine 1 mg/L","Polymyxin B 4 mg/L + Zidovudine 4 mg/L","Polymyxin B 4 mg/L + Zidovudine 2 mg/L","Polymyxin B 4 mg/L + Zidovudine 1 mg/L","Polymyxin B 1 mg/L + Zidovudine 4 mg/L","Polymyxin B 1 mg/L + Zidovudine 2 mg/L","Polymyxin B 1 mg/L + Zidovudine 1 mg/L","Control"],"range":["#e3d26e","#f4c493","#b7707f","#a98ec6","#6683b2","#52a6a5","#86bb6f","#e3d26e","#f4c493","#b7707f"]},"legend":{"title":null,"orient":"none","legendX":35,"legendY":-65,"values":["Control","Polymyxin B 1 mg/L + Zidovudine 1 mg/L","Polymyxin B 1 mg/L + Zidovudine 2 mg/L","Polymyxin B 1 mg/L + Zidovudine 4 mg/L","Polymyxin B 4 mg/L + Zidovudine 1 mg/L","Polymyxin B 4 mg/L + Zidovudine 2 mg/L","Polymyxin B 4 mg/L + Zidovudine 4 mg/L","Polymyxin B 8 mg/L + Zidovudine 1 mg/L","Polymyxin B 8 mg/L + Zidovudine 2 mg/L","Polymyxin B 8 mg/L + Zidovudine 4 mg/L"],"symbolType":"stroke","symbolSize":289,"symbolStrokeWidth":1,"labelExpr":"''","rowPadding":0.7}},
      "strokeDash":{"field":"s","type":"nominal","scale":{"domain":["Polymyxin B 8 mg/L + Zidovudine 4 mg/L","Polymyxin B 8 mg/L + Zidovudine 2 mg/L","Polymyxin B 8 mg/L + Zidovudine 1 mg/L","Polymyxin B 4 mg/L + Zidovudine 4 mg/L","Polymyxin B 4 mg/L + Zidovudine 2 mg/L","Polymyxin B 4 mg/L + Zidovudine 1 mg/L","Polymyxin B 1 mg/L + Zidovudine 4 mg/L","Polymyxin B 1 mg/L + Zidovudine 2 mg/L","Polymyxin B 1 mg/L + Zidovudine 1 mg/L","Control"],"range":[[2,1.5],[1,0],[1,0],[4,2],[8,3],[6,3],[5,2,1,2],[2,1.5],[1,0],[1,0]]},"legend":{"title":null,"orient":"none","legendX":35,"legendY":-65,"values":["Control","Polymyxin B 1 mg/L + Zidovudine 1 mg/L","Polymyxin B 1 mg/L + Zidovudine 2 mg/L","Polymyxin B 1 mg/L + Zidovudine 4 mg/L","Polymyxin B 4 mg/L + Zidovudine 1 mg/L","Polymyxin B 4 mg/L + Zidovudine 2 mg/L","Polymyxin B 4 mg/L + Zidovudine 4 mg/L","Polymyxin B 8 mg/L + Zidovudine 1 mg/L","Polymyxin B 8 mg/L + Zidovudine 2 mg/L","Polymyxin B 8 mg/L + Zidovudine 4 mg/L"],"symbolType":"stroke","symbolSize":289,"symbolStrokeWidth":1,"labelExpr":"''","rowPadding":0.7}}
     }},
    {"mark":{"type":"point","filled":true,"size":16,"opacity":1,"invalid":"filter"},
     "encoding":{
      "x":{"field":"t","type":"quantitative","scale":{"domain":[0,48],"nice":false},"axis":{"values":[0,8,16,24,32,40,48],"title":"Time (Hour)"}},
      "y":{"field":"o","type":"quantitative","scale":{"domain":[0,10],"nice":false},"axis":{"values":[0,2,4,6,8,10],"title":"Log₁₀CFU/mL"}},
      "fill":{"field":"s","type":"nominal","scale":{"domain":["Control","Polymyxin B 1 mg/L + Zidovudine 1 mg/L","Polymyxin B 1 mg/L + Zidovudine 2 mg/L","Polymyxin B 1 mg/L + Zidovudine 4 mg/L","Polymyxin B 4 mg/L + Zidovudine 1 mg/L","Polymyxin B 4 mg/L + Zidovudine 2 mg/L","Polymyxin B 4 mg/L + Zidovudine 4 mg/L","Polymyxin B 8 mg/L + Zidovudine 1 mg/L","Polymyxin B 8 mg/L + Zidovudine 2 mg/L","Polymyxin B 8 mg/L + Zidovudine 4 mg/L"],"range":["#8a1b2b","#ef8a2d","#dfc02c","#4e9a2f","#1f8f87","#204f8b","#7b3c9b","#8a1b2b","#ef8a2d","#c4b52c"]},"legend":{"title":null,"orient":"none","legendX":56,"legendY":-65,"symbolSize":16,"symbolStrokeWidth":0,"labelOffset":10,"rowPadding":0.7}},
      "shape":{"field":"s","type":"nominal","scale":{"domain":["Control","Polymyxin B 1 mg/L + Zidovudine 1 mg/L","Polymyxin B 1 mg/L + Zidovudine 2 mg/L","Polymyxin B 1 mg/L + Zidovudine 4 mg/L","Polymyxin B 4 mg/L + Zidovudine 1 mg/L","Polymyxin B 4 mg/L + Zidovudine 2 mg/L","Polymyxin B 4 mg/L + Zidovudine 4 mg/L","Polymyxin B 8 mg/L + Zidovudine 1 mg/L","Polymyxin B 8 mg/L + Zidovudine 2 mg/L","Polymyxin B 8 mg/L + Zidovudine 4 mg/L"],"range":["circle","circle","triangle-down","triangle-up","square","square","circle","circle","circle","triangle-down"]},"legend":{"title":null,"orient":"none","legendX":56,"legendY":-65,"symbolSize":16,"symbolStrokeWidth":0,"labelOffset":10,"rowPadding":0.7}}
     }}
   ]
  }
 ]
},
{
 "bounds":"flush","spacing":51,
 "resolve":{"scale":{"stroke":"independent","strokeDash":"independent","fill":"independent","shape":"independent","x":"independent","y":"independent"},"legend":{"stroke":"independent","strokeDash":"independent","fill":"independent","shape":"independent"}},
 "hconcat":[
  {
   "width":175,"height":126,"data":{"name":"B1"},
   "title":{"text":"K. pneumoniae 02","orient":"left","anchor":"middle","frame":"bounds","offset":9,"dx":26},
   "layer":[
    {"mark":{"type":"line","strokeWidth":1.1,"invalid":"filter"},
     "encoding":{
      "x":{"field":"t","type":"quantitative","scale":{"domain":[0,48],"nice":false},"axis":{"values":[0,8,16,24,32,40,48],"title":"Time (Hour)"}},
      "y":{"field":"f","type":"quantitative","scale":{"domain":[0,10],"nice":false},"axis":{"values":[0,2,4,6,8,10],"title":"Log₁₀CFU/mL"}},
      "stroke":{"field":"s","type":"nominal","scale":{"domain":["Polymyxin B 8 mg/L","Polymyxin B 4 mg/L","Polymyxin B 2 mg/L","PolymyxinB 1 mg/L","Polymyxin B 0.5 mg/L","Control"],"range":["#6683b2","#52a6a5","#86bb6f","#e3d26e","#f4c493","#b7707f"]},"legend":{"title":null,"orient":"none","legendX":93,"legendY":-71,"values":["Control","Polymyxin B 0.5 mg/L","PolymyxinB 1 mg/L","Polymyxin B 2 mg/L","Polymyxin B 4 mg/L","Polymyxin B 8 mg/L"],"symbolType":"stroke","symbolSize":289,"symbolStrokeWidth":1,"labelExpr":"''","rowPadding":1.2}},
      "strokeDash":{"field":"s","type":"nominal","scale":{"domain":["Polymyxin B 8 mg/L","Polymyxin B 4 mg/L","Polymyxin B 2 mg/L","PolymyxinB 1 mg/L","Polymyxin B 0.5 mg/L","Control"],"range":[[8,3],[6,3],[5,2,1,2],[2,1.5],[1,0],[1,0]]},"legend":{"title":null,"orient":"none","legendX":93,"legendY":-71,"values":["Control","Polymyxin B 0.5 mg/L","PolymyxinB 1 mg/L","Polymyxin B 2 mg/L","Polymyxin B 4 mg/L","Polymyxin B 8 mg/L"],"symbolType":"stroke","symbolSize":289,"symbolStrokeWidth":1,"labelExpr":"''","rowPadding":1.2}}
     }},
    {"mark":{"type":"point","filled":true,"size":16,"opacity":1,"invalid":"filter"},
     "encoding":{
      "x":{"field":"t","type":"quantitative","scale":{"domain":[0,48],"nice":false},"axis":{"values":[0,8,16,24,32,40,48],"title":"Time (Hour)"}},
      "y":{"field":"o","type":"quantitative","scale":{"domain":[0,10],"nice":false},"axis":{"values":[0,2,4,6,8,10],"title":"Log₁₀CFU/mL"}},
      "fill":{"field":"s","type":"nominal","scale":{"domain":["Control","Polymyxin B 0.5 mg/L","PolymyxinB 1 mg/L","Polymyxin B 2 mg/L","Polymyxin B 4 mg/L","Polymyxin B 8 mg/L"],"range":["#8a1b2b","#ef8a2d","#dfc02c","#4e9a2f","#1f8f87","#204f8b"]},"legend":{"title":null,"orient":"none","legendX":115,"legendY":-71,"symbolSize":16,"symbolStrokeWidth":0,"labelOffset":10,"rowPadding":1.2}},
      "shape":{"field":"s","type":"nominal","scale":{"domain":["Control","Polymyxin B 0.5 mg/L","PolymyxinB 1 mg/L","Polymyxin B 2 mg/L","Polymyxin B 4 mg/L","Polymyxin B 8 mg/L"],"range":["circle","circle","triangle-down","triangle-up","square","square"]},"legend":{"title":null,"orient":"none","legendX":115,"legendY":-71,"symbolSize":16,"symbolStrokeWidth":0,"labelOffset":10,"rowPadding":1.2}}
     }}
   ]
  },
  {
   "width":175,"height":126,"data":{"name":"B2"},
   "layer":[
    {"mark":{"type":"line","strokeWidth":1.1,"invalid":"filter"},
     "encoding":{
      "x":{"field":"t","type":"quantitative","scale":{"domain":[0,48],"nice":false},"axis":{"values":[0,8,16,24,32,40,48],"title":"Time (Hour)"}},
      "y":{"field":"f","type":"quantitative","scale":{"domain":[0,10],"nice":false},"axis":{"values":[0,2,4,6,8,10],"title":"Log₁₀CFU/mL"}},
      "stroke":{"field":"s","type":"nominal","scale":{"domain":["Zidovudine 16 mg/L","Zidovudine 8 mg/L","Zidovudine 4 mg/L","Zidovudine 2 mg/L","Zidovudine 1 mg/L","Control"],"range":["#6683b2","#52a6a5","#86bb6f","#e3d26e","#f4c493","#b7707f"]},"legend":{"title":null,"orient":"none","legendX":96,"legendY":-72,"values":["Control","Zidovudine 1 mg/L","Zidovudine 2 mg/L","Zidovudine 4 mg/L","Zidovudine 8 mg/L","Zidovudine 16 mg/L"],"symbolType":"stroke","symbolSize":289,"symbolStrokeWidth":1,"labelExpr":"''","rowPadding":1.3}},
      "strokeDash":{"field":"s","type":"nominal","scale":{"domain":["Zidovudine 16 mg/L","Zidovudine 8 mg/L","Zidovudine 4 mg/L","Zidovudine 2 mg/L","Zidovudine 1 mg/L","Control"],"range":[[8,3],[6,3],[5,2,1,2],[2,1.5],[1,0],[1,0]]},"legend":{"title":null,"orient":"none","legendX":96,"legendY":-72,"values":["Control","Zidovudine 1 mg/L","Zidovudine 2 mg/L","Zidovudine 4 mg/L","Zidovudine 8 mg/L","Zidovudine 16 mg/L"],"symbolType":"stroke","symbolSize":289,"symbolStrokeWidth":1,"labelExpr":"''","rowPadding":1.3}}
     }},
    {"mark":{"type":"point","filled":true,"size":16,"opacity":1,"invalid":"filter"},
     "encoding":{
      "x":{"field":"t","type":"quantitative","scale":{"domain":[0,48],"nice":false},"axis":{"values":[0,8,16,24,32,40,48],"title":"Time (Hour)"}},
      "y":{"field":"o","type":"quantitative","scale":{"domain":[0,10],"nice":false},"axis":{"values":[0,2,4,6,8,10],"title":"Log₁₀CFU/mL"}},
      "fill":{"field":"s","type":"nominal","scale":{"domain":["Control","Zidovudine 1 mg/L","Zidovudine 2 mg/L","Zidovudine 4 mg/L","Zidovudine 8 mg/L","Zidovudine 16 mg/L"],"range":["#8a1b2b","#ef8a2d","#dfc02c","#4e9a2f","#1f8f87","#204f8b"]},"legend":{"title":null,"orient":"none","legendX":118,"legendY":-72,"symbolSize":16,"symbolStrokeWidth":0,"labelOffset":11,"rowPadding":1.3}},
      "shape":{"field":"s","type":"nominal","scale":{"domain":["Control","Zidovudine 1 mg/L","Zidovudine 2 mg/L","Zidovudine 4 mg/L","Zidovudine 8 mg/L","Zidovudine 16 mg/L"],"range":["circle","circle","triangle-down","triangle-up","square","square"]},"legend":{"title":null,"orient":"none","legendX":118,"legendY":-72,"symbolSize":16,"symbolStrokeWidth":0,"labelOffset":11,"rowPadding":1.3}}
     }}
   ]
  },
  {
   "width":175,"height":126,"data":{"name":"B3"},
   "layer":[
    {"mark":{"type":"line","strokeWidth":1.1,"invalid":"filter"},
     "encoding":{
      "x":{"field":"t","type":"quantitative","scale":{"domain":[0,48],"nice":false},"axis":{"values":[0,8,16,24,32,40,48],"title":"Time (Hour)"}},
      "y":{"field":"f","type":"quantitative","scale":{"domain":[0,10],"nice":false},"axis":{"values":[0,2,4,6,8,10],"title":"Log₁₀CFU/mL"}},
      "stroke":{"field":"s","type":"nominal","scale":{"domain":["Polymyxin B 8 mg/L + Zidovudine 4 mg/L","Polymyxin B 8 mg/L + Zidovudine 2 mg/L","Polymyxin B 8 mg/L + Zidovudine 1 mg/L","Polymyxin B 4 mg/L + Zidovudine 4 mg/L","Polymyxin B 4 mg/L + Zidovudine 2 mg/L","Polymyxin B 4 mg/L + Zidovudine 1 mg/L","Polymyxin B 1 mg/L + Zidovudine 4 mg/L","Polymyxin B 1 mg/L + Zidovudine 2 mg/L","Polymyxin B 1 mg/L + Zidovudine 1 mg/L","Control"],"range":["#e3d26e","#f4c493","#b7707f","#a98ec6","#6683b2","#52a6a5","#86bb6f","#e3d26e","#f4c493","#b7707f"]},"legend":{"title":null,"orient":"none","legendX":32,"legendY":-79,"values":["Control","Polymyxin B 1 mg/L + Zidovudine 1 mg/L","Polymyxin B 1 mg/L + Zidovudine 2 mg/L","Polymyxin B 1 mg/L + Zidovudine 4 mg/L","Polymyxin B 4 mg/L + Zidovudine 1 mg/L","Polymyxin B 4 mg/L + Zidovudine 2 mg/L","Polymyxin B 4 mg/L + Zidovudine 4 mg/L","Polymyxin B 8 mg/L + Zidovudine 1 mg/L","Polymyxin B 8 mg/L + Zidovudine 2 mg/L","Polymyxin B 8 mg/L + Zidovudine 4 mg/L"],"symbolType":"stroke","symbolSize":289,"symbolStrokeWidth":1,"labelExpr":"''","rowPadding":0.8}},
      "strokeDash":{"field":"s","type":"nominal","scale":{"domain":["Polymyxin B 8 mg/L + Zidovudine 4 mg/L","Polymyxin B 8 mg/L + Zidovudine 2 mg/L","Polymyxin B 8 mg/L + Zidovudine 1 mg/L","Polymyxin B 4 mg/L + Zidovudine 4 mg/L","Polymyxin B 4 mg/L + Zidovudine 2 mg/L","Polymyxin B 4 mg/L + Zidovudine 1 mg/L","Polymyxin B 1 mg/L + Zidovudine 4 mg/L","Polymyxin B 1 mg/L + Zidovudine 2 mg/L","Polymyxin B 1 mg/L + Zidovudine 1 mg/L","Control"],"range":[[2,1.5],[1,0],[1,0],[4,2],[8,3],[6,3],[5,2,1,2],[2,1.5],[1,0],[1,0]]},"legend":{"title":null,"orient":"none","legendX":32,"legendY":-79,"values":["Control","Polymyxin B 1 mg/L + Zidovudine 1 mg/L","Polymyxin B 1 mg/L + Zidovudine 2 mg/L","Polymyxin B 1 mg/L + Zidovudine 4 mg/L","Polymyxin B 4 mg/L + Zidovudine 1 mg/L","Polymyxin B 4 mg/L + Zidovudine 2 mg/L","Polymyxin B 4 mg/L + Zidovudine 4 mg/L","Polymyxin B 8 mg/L + Zidovudine 1 mg/L","Polymyxin B 8 mg/L + Zidovudine 2 mg/L","Polymyxin B 8 mg/L + Zidovudine 4 mg/L"],"symbolType":"stroke","symbolSize":289,"symbolStrokeWidth":1,"labelExpr":"''","rowPadding":0.8}}
     }},
    {"mark":{"type":"point","filled":true,"size":16,"opacity":1,"invalid":"filter"},
     "encoding":{
      "x":{"field":"t","type":"quantitative","scale":{"domain":[0,48],"nice":false},"axis":{"values":[0,8,16,24,32,40,48],"title":"Time (Hour)"}},
      "y":{"field":"o","type":"quantitative","scale":{"domain":[0,10],"nice":false},"axis":{"values":[0,2,4,6,8,10],"title":"Log₁₀CFU/mL"}},
      "fill":{"field":"s","type":"nominal","scale":{"domain":["Control","Polymyxin B 1 mg/L + Zidovudine 1 mg/L","Polymyxin B 1 mg/L + Zidovudine 2 mg/L","Polymyxin B 1 mg/L + Zidovudine 4 mg/L","Polymyxin B 4 mg/L + Zidovudine 1 mg/L","Polymyxin B 4 mg/L + Zidovudine 2 mg/L","Polymyxin B 4 mg/L + Zidovudine 4 mg/L","Polymyxin B 8 mg/L + Zidovudine 1 mg/L","Polymyxin B 8 mg/L + Zidovudine 2 mg/L","Polymyxin B 8 mg/L + Zidovudine 4 mg/L"],"range":["#8a1b2b","#ef8a2d","#dfc02c","#4e9a2f","#1f8f87","#204f8b","#7b3c9b","#8a1b2b","#ef8a2d","#c4b52c"]},"legend":{"title":null,"orient":"none","legendX":54,"legendY":-79,"symbolSize":16,"symbolStrokeWidth":0,"labelOffset":11,"rowPadding":0.8}},
      "shape":{"field":"s","type":"nominal","scale":{"domain":["Control","Polymyxin B 1 mg/L + Zidovudine 1 mg/L","Polymyxin B 1 mg/L + Zidovudine 2 mg/L","Polymyxin B 1 mg/L + Zidovudine 4 mg/L","Polymyxin B 4 mg/L + Zidovudine 1 mg/L","Polymyxin B 4 mg/L + Zidovudine 2 mg/L","Polymyxin B 4 mg/L + Zidovudine 4 mg/L","Polymyxin B 8 mg/L + Zidovudine 1 mg/L","Polymyxin B 8 mg/L + Zidovudine 2 mg/L","Polymyxin B 8 mg/L + Zidovudine 4 mg/L"],"range":["circle","circle","triangle-down","triangle-up","square","square","circle","circle","circle","triangle-down"]},"legend":{"title":null,"orient":"none","legendX":54,"legendY":-79,"symbolSize":16,"symbolStrokeWidth":0,"labelOffset":11,"rowPadding":0.8}}
     }}
   ]
  }
 ]
},
{
 "bounds":"flush","spacing":51,
 "resolve":{"scale":{"stroke":"independent","strokeDash":"independent","fill":"independent","shape":"independent","x":"independent","y":"independent"},"legend":{"stroke":"independent","strokeDash":"independent","fill":"independent","shape":"independent"}},
 "hconcat":[
  {
   "width":175,"height":126,"data":{"name":"C1"},
   "title":{"text":"K. pneumoniae BM1","orient":"left","anchor":"middle","frame":"bounds","offset":9,"dx":22},
   "layer":[
    {"mark":{"type":"line","strokeWidth":1.1,"invalid":"filter"},
     "encoding":{
      "x":{"field":"t","type":"quantitative","scale":{"domain":[0,48],"nice":false},"axis":{"values":[0,8,16,24,32,40,48],"title":"Time (Hour)"}},
      "y":{"field":"f","type":"quantitative","scale":{"domain":[0,10],"nice":false},"axis":{"values":[0,2,4,6,8,10],"title":"Log₁₀CFU/mL"}},
      "stroke":{"field":"s","type":"nominal","scale":{"domain":["Polymyxin B 8 mg/L","Polymyxin B 4 mg/L","Polymyxin B 2 mg/L","Polymyxin B 1 mg/L","Polymyxin B 0.5 mg/L","Control"],"range":["#6683b2","#52a6a5","#86bb6f","#e3d26e","#f4c493","#b7707f"]},"legend":{"title":null,"orient":"none","legendX":90,"legendY":-75,"values":["Control","Polymyxin B 0.5 mg/L","Polymyxin B 1 mg/L","Polymyxin B 2 mg/L","Polymyxin B 4 mg/L","Polymyxin B 8 mg/L"],"symbolType":"stroke","symbolSize":289,"symbolStrokeWidth":1,"labelExpr":"''","rowPadding":1.3}},
      "strokeDash":{"field":"s","type":"nominal","scale":{"domain":["Polymyxin B 8 mg/L","Polymyxin B 4 mg/L","Polymyxin B 2 mg/L","Polymyxin B 1 mg/L","Polymyxin B 0.5 mg/L","Control"],"range":[[8,3],[6,3],[5,2,1,2],[2,1.5],[1,0],[1,0]]},"legend":{"title":null,"orient":"none","legendX":90,"legendY":-75,"values":["Control","Polymyxin B 0.5 mg/L","Polymyxin B 1 mg/L","Polymyxin B 2 mg/L","Polymyxin B 4 mg/L","Polymyxin B 8 mg/L"],"symbolType":"stroke","symbolSize":289,"symbolStrokeWidth":1,"labelExpr":"''","rowPadding":1.3}}
     }},
    {"mark":{"type":"point","filled":true,"size":16,"opacity":1,"invalid":"filter"},
     "encoding":{
      "x":{"field":"t","type":"quantitative","scale":{"domain":[0,48],"nice":false},"axis":{"values":[0,8,16,24,32,40,48],"title":"Time (Hour)"}},
      "y":{"field":"o","type":"quantitative","scale":{"domain":[0,10],"nice":false},"axis":{"values":[0,2,4,6,8,10],"title":"Log₁₀CFU/mL"}},
      "fill":{"field":"s","type":"nominal","scale":{"domain":["Control","Polymyxin B 0.5 mg/L","Polymyxin B 1 mg/L","Polymyxin B 2 mg/L","Polymyxin B 4 mg/L","Polymyxin B 8 mg/L"],"range":["#8a1b2b","#ef8a2d","#dfc02c","#4e9a2f","#1f8f87","#204f8b"]},"legend":{"title":null,"orient":"none","legendX":114,"legendY":-75,"symbolSize":16,"symbolStrokeWidth":0,"labelOffset":9,"rowPadding":1.3}},
      "shape":{"field":"s","type":"nominal","scale":{"domain":["Control","Polymyxin B 0.5 mg/L","Polymyxin B 1 mg/L","Polymyxin B 2 mg/L","Polymyxin B 4 mg/L","Polymyxin B 8 mg/L"],"range":["circle","circle","triangle-down","triangle-up","square","square"]},"legend":{"title":null,"orient":"none","legendX":114,"legendY":-75,"symbolSize":16,"symbolStrokeWidth":0,"labelOffset":9,"rowPadding":1.3}}
     }}
   ]
  },
  {
   "width":175,"height":126,"data":{"name":"C2"},
   "layer":[
    {"mark":{"type":"line","strokeWidth":1.1,"invalid":"filter"},
     "encoding":{
      "x":{"field":"t","type":"quantitative","scale":{"domain":[0,48],"nice":false},"axis":{"values":[0,8,16,24,32,40,48],"title":"Time (Hour)"}},
      "y":{"field":"f","type":"quantitative","scale":{"domain":[0,10],"nice":false},"axis":{"values":[0,2,4,6,8,10],"title":"Log₁₀CFU/mL"}},
      "stroke":{"field":"s","type":"nominal","scale":{"domain":["Zidovudine 16 mg/L","Zidovudine 8 mg/L","Zidovudine 4 mg/L","Zidovudine 2 mg/L","Zidovudine 1 mg/L","Control"],"range":["#6683b2","#52a6a5","#86bb6f","#e3d26e","#f4c493","#b7707f"]},"legend":{"title":null,"orient":"none","legendX":99,"legendY":-74,"values":["Control","Zidovudine 1 mg/L","Zidovudine 2 mg/L","Zidovudine 4 mg/L","Zidovudine 8 mg/L","Zidovudine 16 mg/L"],"symbolType":"stroke","symbolSize":289,"symbolStrokeWidth":1,"labelExpr":"''","rowPadding":1.4}},
      "strokeDash":{"field":"s","type":"nominal","scale":{"domain":["Zidovudine 16 mg/L","Zidovudine 8 mg/L","Zidovudine 4 mg/L","Zidovudine 2 mg/L","Zidovudine 1 mg/L","Control"],"range":[[8,3],[6,3],[5,2,1,2],[2,1.5],[1,0],[1,0]]},"legend":{"title":null,"orient":"none","legendX":99,"legendY":-74,"values":["Control","Zidovudine 1 mg/L","Zidovudine 2 mg/L","Zidovudine 4 mg/L","Zidovudine 8 mg/L","Zidovudine 16 mg/L"],"symbolType":"stroke","symbolSize":289,"symbolStrokeWidth":1,"labelExpr":"''","rowPadding":1.4}}
     }},
    {"mark":{"type":"point","filled":true,"size":16,"opacity":1,"invalid":"filter"},
     "encoding":{
      "x":{"field":"t","type":"quantitative","scale":{"domain":[0,48],"nice":false},"axis":{"values":[0,8,16,24,32,40,48],"title":"Time (Hour)"}},
      "y":{"field":"o","type":"quantitative","scale":{"domain":[0,10],"nice":false},"axis":{"values":[0,2,4,6,8,10],"title":"Log₁₀CFU/mL"}},
      "fill":{"field":"s","type":"nominal","scale":{"domain":["Control","Zidovudine 1 mg/L","Zidovudine 2 mg/L","Zidovudine 4 mg/L","Zidovudine 8 mg/L","Zidovudine 16 mg/L"],"range":["#8a1b2b","#ef8a2d","#dfc02c","#4e9a2f","#1f8f87","#204f8b"]},"legend":{"title":null,"orient":"none","legendX":120,"legendY":-74,"symbolSize":16,"symbolStrokeWidth":0,"labelOffset":11,"rowPadding":1.4}},
      "shape":{"field":"s","type":"nominal","scale":{"domain":["Control","Zidovudine 1 mg/L","Zidovudine 2 mg/L","Zidovudine 4 mg/L","Zidovudine 8 mg/L","Zidovudine 16 mg/L"],"range":["circle","circle","triangle-down","triangle-up","square","square"]},"legend":{"title":null,"orient":"none","legendX":120,"legendY":-74,"symbolSize":16,"symbolStrokeWidth":0,"labelOffset":11,"rowPadding":1.4}}
     }}
   ]
  },
  {
   "width":175,"height":126,"data":{"name":"C3"},
   "layer":[
    {"mark":{"type":"line","strokeWidth":1.1,"invalid":"filter"},
     "encoding":{
      "x":{"field":"t","type":"quantitative","scale":{"domain":[0,48],"nice":false},"axis":{"values":[0,8,16,24,32,40,48],"title":"Time (Hour)"}},
      "y":{"field":"f","type":"quantitative","scale":{"domain":[0,10],"nice":false},"axis":{"values":[0,2,4,6,8,10],"title":"Log₁₀CFU/mL"}},
      "stroke":{"field":"s","type":"nominal","scale":{"domain":["Polymyxin B 8 mg/L + Zidovudine 4 mg/L","Polymyxin B 8 mg/L + Zidovudine 2 mg/L","Polymyxin B 8 mg/L + Zidovudine 1 mg/L","Polymyxin B 4 mg/L + Zidovudine 4 mg/L","Polymyxin B 4 mg/L + Zidovudine 2 mg/L","Polymyxin B 4 mg/L + Zidovudine 1 mg/L","Polymyxin B 2 mg/L + Zidovudine 4 mg/L","Polymyxin B 2 mg/L + Zidovudine 2 mg/L","Polymyxin B 2 mg/L + Zidovudine 1 mg/L","Polymyxin B 1 mg/L + Zidovudine 4 mg/L","Polymyxin B 1 mg/L + Zidovudine 2 mg/L","Polymyxin B 1 mg/L + Zidovudine 1 mg/L","Control"],"range":["#6683b2","#52a6a5","#86bb6f","#e3d26e","#f4c493","#b7707f","#a98ec6","#6683b2","#52a6a5","#86bb6f","#e3d26e","#f4c493","#b7707f"]},"legend":{"title":null,"orient":"none","legendX":38,"legendY":-90,"values":["Control","Polymyxin B 1 mg/L + Zidovudine 1 mg/L","Polymyxin B 1 mg/L + Zidovudine 2 mg/L","Polymyxin B 1 mg/L + Zidovudine 4 mg/L","Polymyxin B 2 mg/L + Zidovudine 1 mg/L","Polymyxin B 2 mg/L + Zidovudine 2 mg/L","Polymyxin B 2 mg/L + Zidovudine 4 mg/L","Polymyxin B 4 mg/L + Zidovudine 1 mg/L","Polymyxin B 4 mg/L + Zidovudine 2 mg/L","Polymyxin B 4 mg/L + Zidovudine 4 mg/L","Polymyxin B 8 mg/L + Zidovudine 1 mg/L","Polymyxin B 8 mg/L + Zidovudine 2 mg/L","Polymyxin B 8 mg/L + Zidovudine 4 mg/L"],"symbolType":"stroke","symbolSize":289,"symbolStrokeWidth":1,"labelExpr":"''","rowPadding":0.7}},
      "strokeDash":{"field":"s","type":"nominal","scale":{"domain":["Polymyxin B 8 mg/L + Zidovudine 4 mg/L","Polymyxin B 8 mg/L + Zidovudine 2 mg/L","Polymyxin B 8 mg/L + Zidovudine 1 mg/L","Polymyxin B 4 mg/L + Zidovudine 4 mg/L","Polymyxin B 4 mg/L + Zidovudine 2 mg/L","Polymyxin B 4 mg/L + Zidovudine 1 mg/L","Polymyxin B 2 mg/L + Zidovudine 4 mg/L","Polymyxin B 2 mg/L + Zidovudine 2 mg/L","Polymyxin B 2 mg/L + Zidovudine 1 mg/L","Polymyxin B 1 mg/L + Zidovudine 4 mg/L","Polymyxin B 1 mg/L + Zidovudine 2 mg/L","Polymyxin B 1 mg/L + Zidovudine 1 mg/L","Control"],"range":[[8,3],[6,3],[5,2,1,2],[2,1.5],[1,0],[1,0],[4,2],[8,3],[6,3],[5,2,1,2],[2,1.5],[1,0],[1,0]]},"legend":{"title":null,"orient":"none","legendX":38,"legendY":-90,"values":["Control","Polymyxin B 1 mg/L + Zidovudine 1 mg/L","Polymyxin B 1 mg/L + Zidovudine 2 mg/L","Polymyxin B 1 mg/L + Zidovudine 4 mg/L","Polymyxin B 2 mg/L + Zidovudine 1 mg/L","Polymyxin B 2 mg/L + Zidovudine 2 mg/L","Polymyxin B 2 mg/L + Zidovudine 4 mg/L","Polymyxin B 4 mg/L + Zidovudine 1 mg/L","Polymyxin B 4 mg/L + Zidovudine 2 mg/L","Polymyxin B 4 mg/L + Zidovudine 4 mg/L","Polymyxin B 8 mg/L + Zidovudine 1 mg/L","Polymyxin B 8 mg/L + Zidovudine 2 mg/L","Polymyxin B 8 mg/L + Zidovudine 4 mg/L"],"symbolType":"stroke","symbolSize":289,"symbolStrokeWidth":1,"labelExpr":"''","rowPadding":0.7}}
     }},
    {"mark":{"type":"point","filled":true,"size":16,"opacity":1,"invalid":"filter"},
     "encoding":{
      "x":{"field":"t","type":"quantitative","scale":{"domain":[0,48],"nice":false},"axis":{"values":[0,8,16,24,32,40,48],"title":"Time (Hour)"}},
      "y":{"field":"o","type":"quantitative","scale":{"domain":[0,10],"nice":false},"axis":{"values":[0,2,4,6,8,10],"title":"Log₁₀CFU/mL"}},
      "fill":{"field":"s","type":"nominal","scale":{"domain":["Control","Polymyxin B 1 mg/L + Zidovudine 1 mg/L","Polymyxin B 1 mg/L + Zidovudine 2 mg/L","Polymyxin B 1 mg/L + Zidovudine 4 mg/L","Polymyxin B 2 mg/L + Zidovudine 1 mg/L","Polymyxin B 2 mg/L + Zidovudine 2 mg/L","Polymyxin B 2 mg/L + Zidovudine 4 mg/L","Polymyxin B 4 mg/L + Zidovudine 1 mg/L","Polymyxin B 4 mg/L + Zidovudine 2 mg/L","Polymyxin B 4 mg/L + Zidovudine 4 mg/L","Polymyxin B 8 mg/L + Zidovudine 1 mg/L","Polymyxin B 8 mg/L + Zidovudine 2 mg/L","Polymyxin B 8 mg/L + Zidovudine 4 mg/L"],"range":["#8a1b2b","#ef8a2d","#dfc02c","#4e9a2f","#1f8f87","#204f8b","#7b3c9b","#8a1b2b","#ef8a2d","#dfc02c","#4e9a2f","#1f8f87","#204f8b"]},"legend":{"title":null,"orient":"none","legendX":60,"legendY":-90,"symbolSize":16,"symbolStrokeWidth":0,"labelOffset":9,"rowPadding":0.7}},
      "shape":{"field":"s","type":"nominal","scale":{"domain":["Control","Polymyxin B 1 mg/L + Zidovudine 1 mg/L","Polymyxin B 1 mg/L + Zidovudine 2 mg/L","Polymyxin B 1 mg/L + Zidovudine 4 mg/L","Polymyxin B 2 mg/L + Zidovudine 1 mg/L","Polymyxin B 2 mg/L + Zidovudine 2 mg/L","Polymyxin B 2 mg/L + Zidovudine 4 mg/L","Polymyxin B 4 mg/L + Zidovudine 1 mg/L","Polymyxin B 4 mg/L + Zidovudine 2 mg/L","Polymyxin B 4 mg/L + Zidovudine 4 mg/L","Polymyxin B 8 mg/L + Zidovudine 1 mg/L","Polymyxin B 8 mg/L + Zidovudine 2 mg/L","Polymyxin B 8 mg/L + Zidovudine 4 mg/L"],"range":["circle","circle","triangle-down","triangle-up","square","square","circle","circle","circle","triangle-down","triangle-up","square","square"]},"legend":{"title":null,"orient":"none","legendX":60,"legendY":-90,"symbolSize":16,"symbolStrokeWidth":0,"labelOffset":9,"rowPadding":0.7}}
     }}
   ]
  }
 ]
}
]
}
]
}
